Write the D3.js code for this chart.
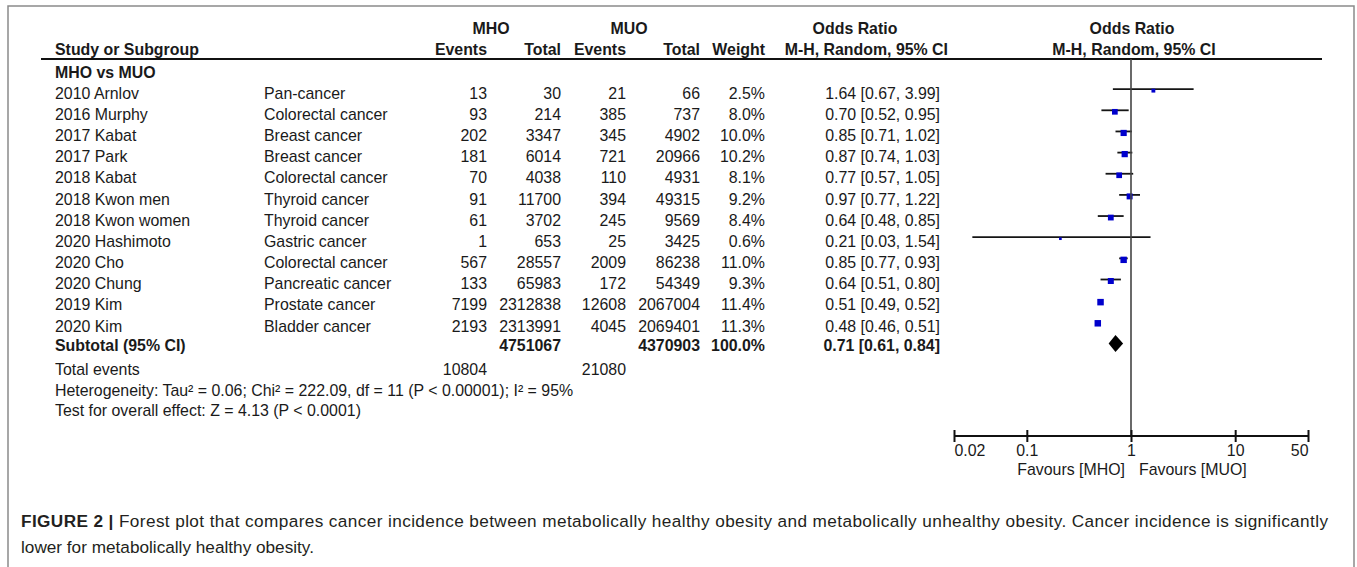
<!DOCTYPE html>
<html>
<head>
<meta charset="utf-8">
<script src="https://cdn.jsdelivr.net/npm/d3@7"></script>
<style>
  body { margin: 0; background: #fff; }
  svg text { font-family: "Liberation Sans", Arial, sans-serif; fill: #1a1a1a; }
</style>
</head>
<body>
<div id="chart"></div>
<script>
// study rows
const studies = ["2010 Arnlov", "2016 Murphy", "2017 Kabat", "2017 Park", "2018 Kabat", "2018 Kwon men",
    "2018 Kwon women", "2020 Hashimoto", "2020 Cho", "2020 Chung", "2019 Kim", "2020 Kim"];
const cancerTypes = ["Pan-cancer", "Colorectal cancer", "Breast cancer", "Breast cancer", "Colorectal cancer",
    "Thyroid cancer", "Thyroid cancer", "Gastric cancer", "Colorectal cancer", "Pancreatic cancer",
    "Prostate cancer", "Bladder cancer"];
const mhoEvents = [13, 93, 202, 181, 70, 91, 61, 1, 567, 133, 7199, 2193];
const mhoTotal = [30, 214, 3347, 6014, 4038, 11700, 3702, 653, 28557, 65983, 2312838, 2313991];
const muoEvents = [21, 385, 345, 721, 110, 394, 245, 25, 2009, 172, 12608, 4045];
const muoTotal = [66, 737, 4902, 20966, 4931, 49315, 9569, 3425, 86238, 54349, 2067004, 2069401];
const weights = [2.5, 8.0, 10.0, 10.2, 8.1, 9.2, 8.4, 0.6, 11.0, 9.3, 11.4, 11.3];
const orEst = [1.64, 0.70, 0.85, 0.87, 0.77, 0.97, 0.64, 0.21, 0.85, 0.64, 0.51, 0.48];
const orLow = [0.67, 0.52, 0.71, 0.74, 0.57, 0.77, 0.48, 0.03, 0.77, 0.51, 0.49, 0.46];
const orHigh = [3.99, 0.95, 1.02, 1.03, 1.05, 1.22, 0.85, 1.54, 0.93, 0.80, 0.52, 0.51];

// pooled result
const subtotalTotals = [4751067, 4370903];
const subtotalWeight = 100.0;
const subtotalOr = [0.71, 0.61, 0.84];
const totalEvents = [10804, 21080];

const axisTicks = [0.02, 0.1, 1, 10, 50];
const axisLabels = ["0.02", "0.1", "1", "10", "50"];

const W = 1357, H = 567;
const FS = 15.9;

let svg = d3.select("#chart").append("svg")
    .attr("width", W)
    .attr("height", H);

// outer frame (bottom edge is cut off)
svg.append("path")
    .attr("d", `M8,${H} L8,6 L1354,6 L1354,${H}`)
    .attr("fill", "none")
    .attr("stroke", "#8a8a8a")
    .attr("stroke-width", 1.5);

let data = studies.map((s, i) => ({
    study: s, cancer: cancerTypes[i],
    e1: mhoEvents[i], t1: mhoTotal[i], e2: muoEvents[i], t2: muoTotal[i],
    w: weights[i], or: orEst[i], lo: orLow[i], hi: orHigh[i]
}));

// row centre positions
let y = d3.scaleLinear().domain([0, 12]).range([72, 325.8]);
const ySub = 345, yTotal = 369, yHet = 390, yTest = 410;

// forest x scale
let x = d3.scaleLog().domain([0.02, 50]).range([954, 1308]);
const axisY = 436;

// column right edges
const cols = { e1: 487, t1: 561, e2: 626, t2: 700, w: 765, or: 940 };

function txt(xp, yp, s, opts) {
    opts = opts || {};
    return svg.append("text")
        .attr("x", xp)
        .attr("y", yp + FS * 0.36)
        .attr("text-anchor", opts.anchor || "start")
        .style("font-size", (opts.size || FS) + "px")
        .style("font-weight", opts.bold ? "bold" : "normal")
        .text(s);
}

// headers
txt(491, 28, "MHO", { anchor: "middle", bold: true });
txt(629, 28, "MUO", { anchor: "middle", bold: true });
txt(855, 28, "Odds Ratio", { anchor: "middle", bold: true });
txt(1132, 28, "Odds Ratio", { anchor: "middle", bold: true });
txt(55, 49, "Study or Subgroup", { bold: true });
txt(cols.e1, 49, "Events", { anchor: "end", bold: true });
txt(cols.t1, 49, "Total", { anchor: "end", bold: true });
txt(cols.e2, 49, "Events", { anchor: "end", bold: true });
txt(cols.t2, 49, "Total", { anchor: "end", bold: true });
txt(cols.w, 49, "Weight", { anchor: "end", bold: true });
txt(948, 49, "M-H, Random, 95% CI", { anchor: "end", bold: true });
txt(1134, 49, "M-H, Random, 95% CI", { anchor: "middle", bold: true });

svg.append("line")
    .attr("x1", 41).attr("x2", 1322)
    .attr("y1", 59).attr("y2", 59)
    .attr("stroke", "#111").attr("stroke-width", 2);

txt(55, y(0), "MHO vs MUO", { bold: true });

// study rows
let rows = svg.selectAll("g.row").data(data).enter()
    .append("g").attr("class", "row");

function colText(key, xp, fmt, anchor) {
    rows.append("text")
        .attr("x", xp)
        .attr("y", (d, i) => y(i + 1) + FS * 0.36)
        .attr("text-anchor", anchor || "end")
        .style("font-size", FS + "px")
        .text(d => fmt ? fmt(d) : d[key]);
}
colText("study", 55, null, "start");
colText("cancer", 264, null, "start");
colText("e1", cols.e1);
colText("t1", cols.t1);
colText("e2", cols.e2);
colText("t2", cols.t2);
colText("w", cols.w, d => d.w.toFixed(1) + "%");
colText("or", cols.or, d => `${d.or.toFixed(2)} [${d.lo.toFixed(2)}, ${d.hi.toFixed(2)}]`);

// subtotal + footer text
txt(55, ySub, "Subtotal (95% CI)", { bold: true });
txt(cols.t1, ySub, subtotalTotals[0], { anchor: "end", bold: true });
txt(cols.t2, ySub, subtotalTotals[1], { anchor: "end", bold: true });
txt(cols.w, ySub, subtotalWeight.toFixed(1) + "%", { anchor: "end", bold: true });
txt(cols.or, ySub, `${subtotalOr[0].toFixed(2)} [${subtotalOr[1].toFixed(2)}, ${subtotalOr[2].toFixed(2)}]`,
    { anchor: "end", bold: true });
txt(55, yTotal, "Total events");
txt(cols.e1, yTotal, totalEvents[0], { anchor: "end" });
txt(cols.e2, yTotal, totalEvents[1], { anchor: "end" });
txt(55, yHet, "Heterogeneity: Tau² = 0.06; Chi² = 222.09, df = 11 (P < 0.00001); I² = 95%");
txt(55, yTest, "Test for overall effect: Z = 4.13 (P < 0.0001)");

// line of no effect
svg.append("line")
    .attr("x1", x(1)).attr("x2", x(1))
    .attr("y1", 59).attr("y2", axisY)
    .attr("stroke", "#444").attr("stroke-width", 1.6);

// CI lines and weighted squares
let size = d3.scaleSqrt().domain([0, d3.max(weights)]).range([1.5, 6.5]);

rows.append("line")
    .attr("x1", d => x(d.lo))
    .attr("x2", d => x(d.hi))
    .attr("y1", (d, i) => y(i + 1) - 4)
    .attr("y2", (d, i) => y(i + 1) - 4)
    .attr("stroke", "#151515")
    .attr("stroke-width", 1.8);

rows.append("rect")
    .attr("x", d => x(d.or) - size(d.w) / 2)
    .attr("y", (d, i) => y(i + 1) - 2.5 - size(d.w) / 2)
    .attr("width", d => size(d.w))
    .attr("height", d => size(d.w))
    .attr("fill", "#0000cc");

// pooled diamond
let dy = ySub - 1.5;
svg.append("path")
    .attr("d", `M${x(subtotalOr[1])},${dy} L${x(subtotalOr[0])},${dy - 8.5} L${x(subtotalOr[2])},${dy} L${x(subtotalOr[0])},${dy + 8.5} Z`)
    .attr("fill", "#000");

// axis
let axis = svg.append("g")
    .attr("transform", `translate(0,${axisY})`)
    .call(d3.axisBottom(x).tickValues(axisTicks).tickFormat((d, i) => axisLabels[i]).tickSize(6).tickPadding(6));
axis.select(".domain").attr("stroke", "#111").attr("stroke-width", 2).attr("d", `M${x(0.02)},0H${x(50)}`);
axis.selectAll(".tick line").attr("y1", -6).attr("y2", 6).attr("stroke", "#111").attr("stroke-width", 2);
axis.selectAll(".tick text")
    .style("font-size", FS + "px")
    .style("font-family", "'Liberation Sans', Arial, sans-serif")
    .attr("fill", "#1a1a1a")
    .attr("y", 9)
    .attr("text-anchor", (d, i) => i === 0 ? "start" : (i === axisTicks.length - 1 ? "end" : "middle"));

txt(x(1) - 6, 469, "Favours [MHO]", { anchor: "end" });
txt(x(1) + 8, 469, "Favours [MUO]");

// caption
let cap1 = svg.append("text")
    .attr("x", 21).attr("y", 527)
    .attr("textLength", 1307)
    .attr("lengthAdjust", "spacing")
    .style("font-size", "17.2px")
    .style("fill", "#231f20");
cap1.append("tspan").style("font-weight", "bold").text("FIGURE 2 | ");
cap1.append("tspan").text("Forest plot that compares cancer incidence between metabolically healthy obesity and metabolically unhealthy obesity. Cancer incidence is significantly");
svg.append("text")
    .attr("x", 21).attr("y", 553)
    .style("font-size", "17.2px")
    .style("fill", "#231f20")
    .text("lower for metabolically healthy obesity.");
</script>
</body>
</html>
